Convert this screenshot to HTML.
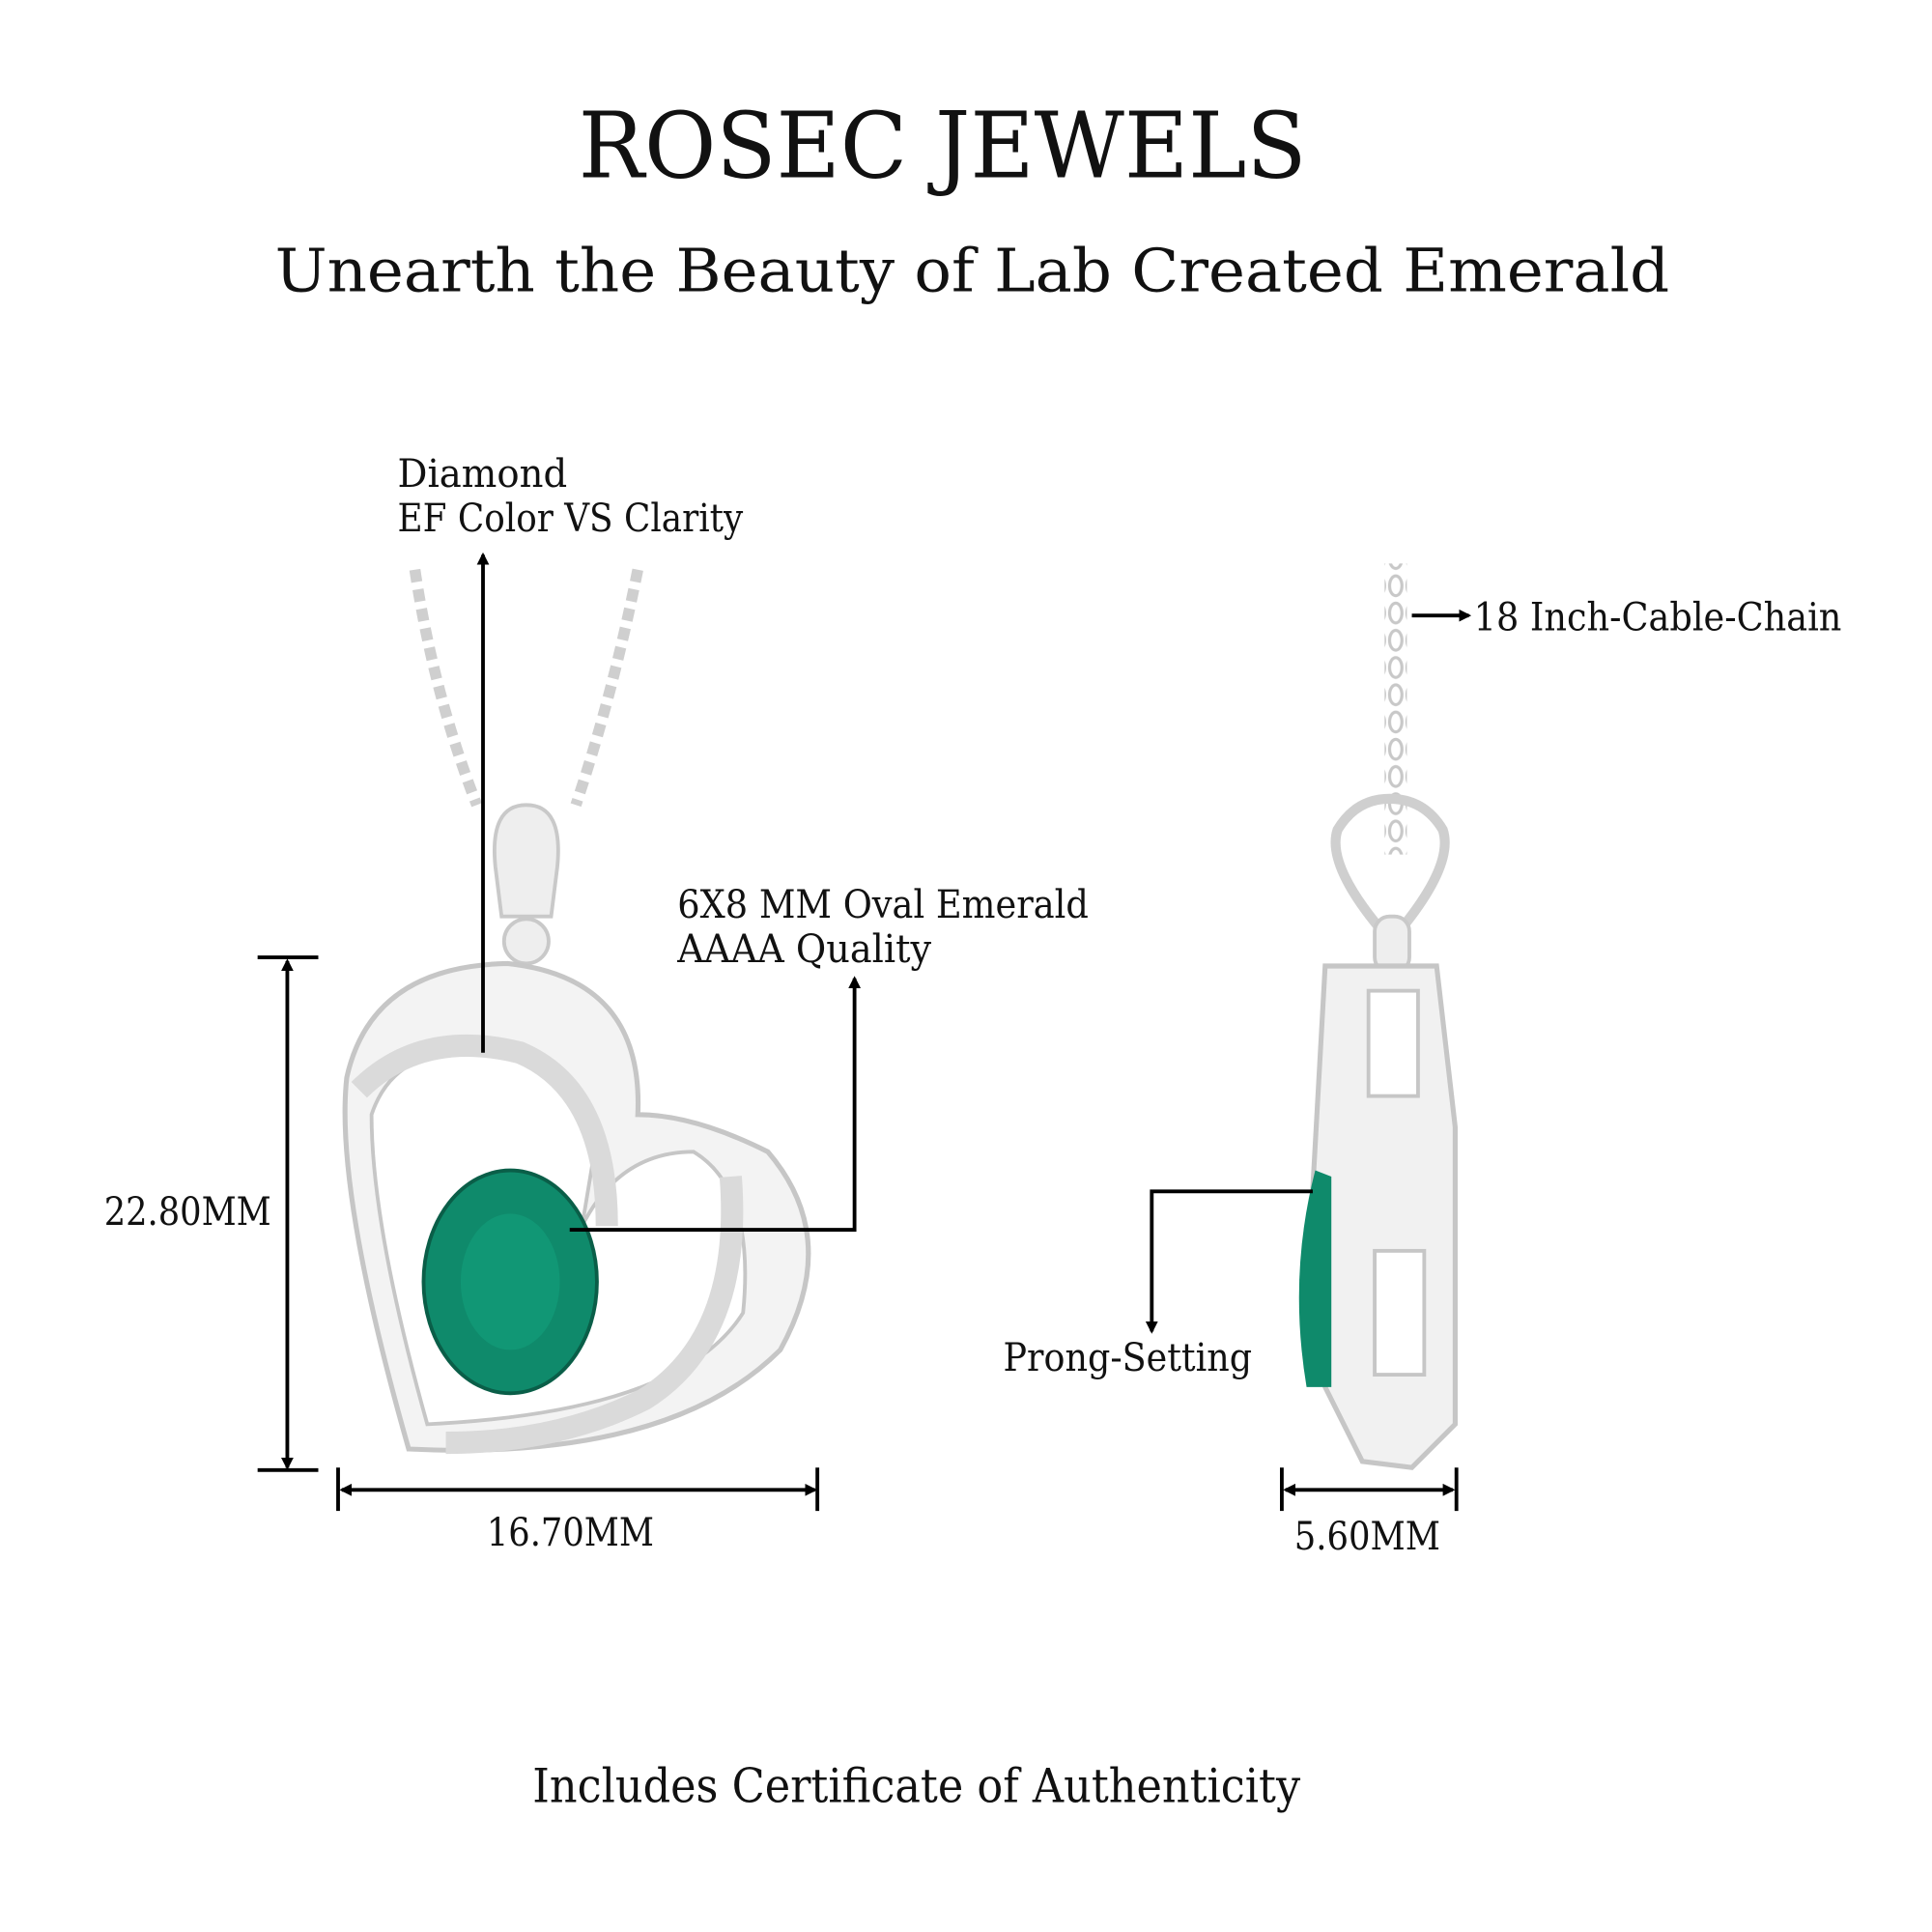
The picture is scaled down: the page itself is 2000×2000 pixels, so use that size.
<!DOCTYPE html>
<html><head><meta charset="utf-8"><style>
html,body{margin:0;padding:0;background:#fff;width:2000px;height:2000px;overflow:hidden}
svg{display:block}
text{font-family:"DejaVu Serif","Liberation Serif",serif;fill:#111}
</style></head><body>
<svg width="2000" height="2000" viewBox="0 0 1560 1560" xmlns="http://www.w3.org/2000/svg">
<defs>
<marker id="ah" markerWidth="10" markerHeight="10" refX="8" refY="5" orient="auto" markerUnits="userSpaceOnUse"><path d="M0,0 L10,5 L0,10 z" fill="#000"/></marker>
<marker id="as" markerWidth="10" markerHeight="10" refX="8" refY="5" orient="auto-start-reverse" markerUnits="userSpaceOnUse"><path d="M0,0 L10,5 L0,10 z" fill="#000"/></marker>
<pattern id="chain" width="14" height="22" patternUnits="userSpaceOnUse"><ellipse cx="7" cy="11" rx="5" ry="8" fill="none" stroke="#c8c8c8" stroke-width="2.5"/></pattern>
</defs>
<text x="467" y="143" font-size="74" textLength="588" lengthAdjust="spacingAndGlyphs">ROSEC JEWELS</text>
<text x="222" y="235" font-size="48" textLength="1126" lengthAdjust="spacingAndGlyphs">Unearth the Beauty of Lab Created Emerald</text>

<path d="M335,460 Q350,560 385,650" stroke="#cfcfcf" stroke-width="9" fill="none" stroke-dasharray="10 6"/>
<path d="M515,460 Q495,560 465,650" stroke="#cfcfcf" stroke-width="9" fill="none" stroke-dasharray="10 6"/>
<path d="M400,700 Q395,650 425,650 Q455,650 450,700 L445,740 L405,740 Z" fill="#eee" stroke="#c9c9c9" stroke-width="3"/>
<circle cx="425" cy="760" r="18" fill="#eee" stroke="#c9c9c9" stroke-width="3"/>
<path d="M330,1170 Q270,960 280,870 Q300,780 410,778 Q520,790 515,900 Q560,900 620,930 Q680,1000 630,1090 Q540,1180 330,1170 Z" fill="#f3f3f3" stroke="#c6c6c6" stroke-width="4"/>
<path d="M345,1150 Q300,990 300,900 Q320,840 400,850 Q470,870 480,930 L470,990 Q500,930 560,930 Q610,960 600,1060 Q550,1140 345,1150 Z" fill="#fff" stroke="#c6c6c6" stroke-width="3"/>
<path d="M290,880 Q340,830 420,850 Q490,880 490,990" fill="none" stroke="#dadada" stroke-width="18"/>
<path d="M590,950 Q600,1080 520,1130 Q450,1165 360,1165" fill="none" stroke="#dadada" stroke-width="18"/>
<ellipse cx="412" cy="1035" rx="70" ry="90" fill="#0f8a6b" stroke="#0a5e48" stroke-width="3"/>
<ellipse cx="412" cy="1035" rx="40" ry="55" fill="#13a07c" opacity="0.6"/>

<rect x="1118" y="455" width="18" height="235" fill="url(#chain)"/>
<path d="M1123,760 Q1070,700 1080,670 Q1095,645 1122,645 Q1150,645 1165,670 Q1175,700 1123,760Z" fill="none" stroke="#cfcfcf" stroke-width="8"/>
<rect x="1110" y="740" width="28" height="45" rx="12" fill="#eee" stroke="#c9c9c9" stroke-width="3"/>
<path d="M1070,780 L1160,780 L1175,910 L1175,1150 L1140,1185 L1100,1180 L1070,1120 L1060,960 Z" fill="#f1f1f1" stroke="#c6c6c6" stroke-width="4"/>
<rect x="1105" y="800" width="40" height="85" fill="#fff" stroke="#c6c6c6" stroke-width="3"/>
<rect x="1110" y="1010" width="40" height="100" fill="#fff" stroke="#c6c6c6" stroke-width="3"/>
<path d="M1062,945 Q1040,1030 1055,1120 L1075,1120 L1075,950 Z" fill="#0f8a6b"/>

<g stroke="#000" stroke-width="3" fill="none">
<line x1="390" y1="850" x2="390" y2="448" marker-end="url(#ah)"/>
<polyline points="460,993 690,993 690,790" marker-end="url(#ah)"/>
<line x1="232" y1="1185" x2="232" y2="776" marker-end="url(#as)" marker-start="url(#as)"/>
<line x1="208" y1="773" x2="257" y2="773"/><line x1="208" y1="1187" x2="257" y2="1187"/>
<line x1="276" y1="1203" x2="658" y2="1203" marker-end="url(#as)" marker-start="url(#as)"/>
<line x1="273" y1="1185" x2="273" y2="1220"/><line x1="660" y1="1185" x2="660" y2="1220"/>
<line x1="1140" y1="497" x2="1186" y2="497" marker-end="url(#ah)"/>
<polyline points="1060,962 930,962 930,1075" marker-end="url(#ah)"/>
<line x1="1038" y1="1203" x2="1173" y2="1203" marker-end="url(#as)" marker-start="url(#as)"/>
<line x1="1035" y1="1185" x2="1035" y2="1220"/><line x1="1176" y1="1185" x2="1176" y2="1220"/>
</g>

<text x="321" y="393" font-size="31" textLength="137" lengthAdjust="spacingAndGlyphs">Diamond</text>
<text x="321" y="429" font-size="31" textLength="279" lengthAdjust="spacingAndGlyphs">EF Color VS Clarity</text>
<text x="547" y="741" font-size="31" textLength="332" lengthAdjust="spacingAndGlyphs">6X8 MM Oval Emerald</text>
<text x="547" y="777" font-size="31" textLength="205" lengthAdjust="spacingAndGlyphs">AAAA Quality</text>
<text x="84" y="989" font-size="31" textLength="135" lengthAdjust="spacingAndGlyphs">22.80MM</text>
<text x="393" y="1248" font-size="31" textLength="135" lengthAdjust="spacingAndGlyphs">16.70MM</text>
<text x="1190" y="509" font-size="31" textLength="297" lengthAdjust="spacingAndGlyphs">18 Inch-Cable-Chain</text>
<text x="810" y="1107" font-size="31" textLength="201" lengthAdjust="spacingAndGlyphs">Prong-Setting</text>
<text x="1045" y="1251" font-size="31" textLength="118" lengthAdjust="spacingAndGlyphs">5.60MM</text>
<text x="430" y="1455" font-size="38" textLength="620" lengthAdjust="spacingAndGlyphs">Includes Certificate of Authenticity</text>
</svg>
</body></html>
